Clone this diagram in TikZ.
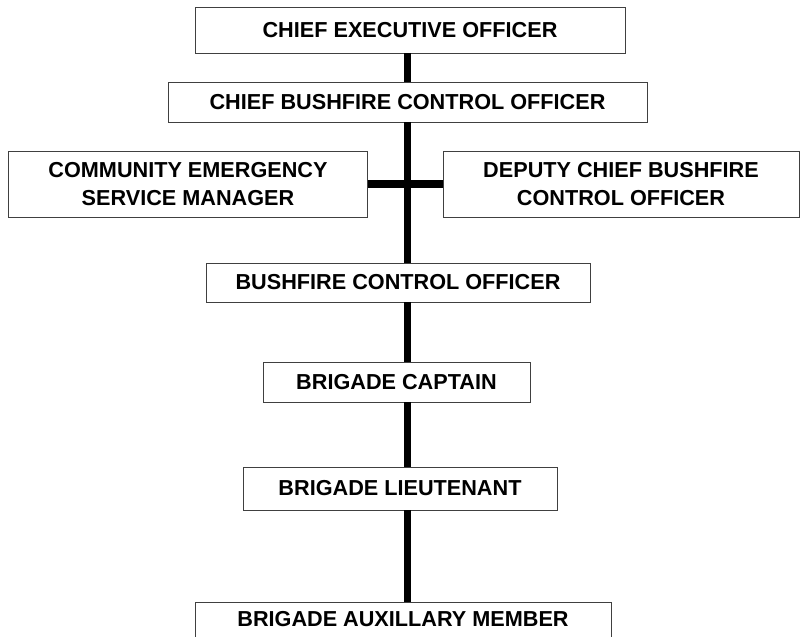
\documentclass[tikz,border=0pt]{standalone}
\usepackage{fontspec}
\setmainfont{Liberation Sans}
\usepackage{tikz}
\tikzset{
	officebox/.style={draw=black!75, line width=0.6pt, fill=white, inner sep=0pt, align=center,
		font=\fontsize{15.4}{20}\selectfont\bfseries},
	chainline/.style={line width=5pt, color=black}
}

\begin{document}
\begin{tikzpicture}[x=0.025cm, y=-0.025cm]
		%%%%% START %%%%%
		
		\useasboundingbox (0, 0) rectangle (803, 637);
		\clip (0, 0) rectangle (803, 637);
		
		\node[officebox, minimum width=10.75cm, minimum height=1.15cm] (ceo) at (410, 30) {CHIEF EXECUTIVE OFFICER};
		\node[officebox, minimum width=11.975cm, minimum height=1cm] (cbco) at (407.5, 102) {CHIEF BUSHFIRE CONTROL OFFICER};
		
		\node[officebox, minimum width=8.975cm, minimum height=1.65cm] (cesm) at (188, 184) {COMMUNITY EMERGENCY\\SERVICE MANAGER};
		\node[officebox, minimum width=8.9cm, minimum height=1.65cm] (dcbco) at (621, 184) {DEPUTY CHIEF BUSHFIRE\\CONTROL OFFICER};
		
		\node[officebox, minimum width=9.6cm, minimum height=0.975cm] (bco) at (398, 282.5) {BUSHFIRE CONTROL OFFICER};
		\node[officebox, minimum width=6.675cm, minimum height=1cm] (bc) at (396.5, 382) {BRIGADE CAPTAIN};
		\node[officebox, minimum width=7.85cm, minimum height=1.075cm] (bl) at (400, 488.5) {BRIGADE LIEUTENANT};
		% last box runs off the bottom edge
		\node[officebox, minimum width=10.4cm, text height=17pt, text depth=20pt, anchor=north] (bam) at (403, 602) {BRIGADE AUXILLARY MEMBER};
		
		\draw[chainline] (ceo.south -| cbco.south) -- (cbco.north);
		\draw[chainline] (cbco.south) -- (cbco.south |- bco.north);
		\draw[chainline] (cesm.east) -- (dcbco.west);
		\draw[chainline] (cbco.south |- bco.south) -- (cbco.south |- bc.north);
		\draw[chainline] (cbco.south |- bc.south) -- (cbco.south |- bl.north);
		\draw[chainline] (cbco.south |- bl.south) -- (cbco.south |- bam.north);
		
		%%%%% END %%%%%
	\end{tikzpicture}
\end{document}
